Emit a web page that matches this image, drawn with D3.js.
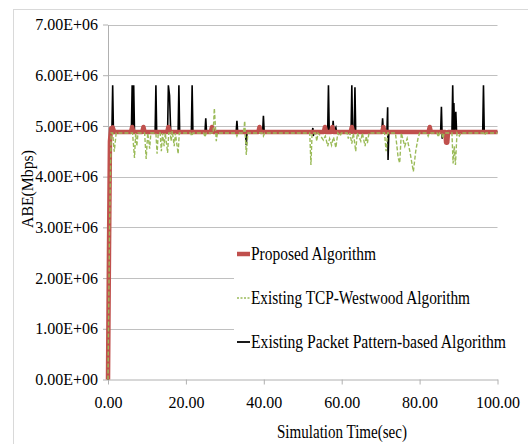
<!DOCTYPE html>
<html>
<head>
<meta charset="utf-8">
<script src="https://cdn.jsdelivr.net/npm/d3@7"></script>
<style>
  body { margin: 0; background: #fff; }
</style>
</head>
<body>
<svg id="canvas" width="528" height="444"></svg>
<script>
// values in E+06 (Mbps), time in sec
let yTicks = [0, 1, 2, 3, 4, 5, 6, 7]
let yTickLabels = ['0.00E+00', '1.00E+06', '2.00E+06', '3.00E+06', '4.00E+06', '5.00E+06', '6.00E+06', '7.00E+06']
let xTicks = [0, 20, 40, 60, 80, 100]
let xTickLabels = ['0.00', '20.00', '40.00', '60.00', '80.00', '100.00']

let seriesNames = ['Proposed Algorithm', 'Existing TCP-Westwood Algorithm', 'Existing Packet Pattern-based Algorithm']

let proposed = [
  [0, 0], [0.25, 2.5], [0.5, 4.7], [0.8, 4.95], [1.2, 4.97], [1.6, 4.88],
  [5.9, 4.88], [6.2, 4.98], [6.5, 4.88],
  [8.8, 4.88], [9.1, 4.98], [9.4, 4.88],
  [15.2, 4.88], [15.5, 4.98], [15.8, 4.88],
  [26.4, 4.88], [26.7, 4.98], [27.0, 4.88],
  [38.6, 4.88], [38.9, 4.98], [39.2, 4.88],
  [55.4, 4.88], [55.7, 4.98], [56.0, 4.88],
  [57.3, 4.88], [57.6, 4.98], [57.9, 4.88],
  [62.3, 4.88], [62.6, 4.98], [62.9, 4.88],
  [70.4, 4.88], [70.7, 4.98], [71.0, 4.88],
  [82.3, 4.88], [82.6, 4.98], [82.9, 4.88],
  [86.6, 4.88], [86.8, 4.67], [87.1, 4.67], [87.3, 4.88],
  [100, 4.88]
]

let westwood = [
  [0, 0], [0.4, 3.0], [0.8, 4.86], [1.2, 4.86], [1.6, 4.49], [2.1, 4.86],
  [6.3, 4.86], [6.8, 4.37], [7.1, 4.86], [7.4, 4.6], [7.7, 4.86],
  [9.4, 4.86], [9.8, 4.35], [10.2, 4.86], [10.7, 4.55], [11.0, 4.86],
  [12.3, 4.86], [12.6, 4.45], [12.9, 4.86],
  [13.4, 4.86], [13.7, 4.5], [14.0, 4.86], [14.4, 4.6], [14.7, 4.86], [15.3, 4.47], [15.6, 4.86],
  [16.0, 4.86], [16.2, 4.7], [16.5, 4.9], [17.0, 4.6], [17.3, 4.86], [18.0, 4.45], [18.3, 4.86],
  [21.2, 4.86], [21.5, 4.8], [21.8, 4.86],
  [24.6, 4.86], [24.9, 4.78], [25.2, 4.86],
  [27.0, 4.86], [27.3, 5.35], [27.8, 4.7], [28.1, 4.86],
  [32.8, 4.86], [33.1, 4.8], [33.4, 4.86],
  [34.8, 4.86], [35.1, 5.1], [35.5, 4.43], [35.9, 4.86],
  [39.6, 4.86], [39.9, 4.8], [40.2, 4.86],
  [51.8, 4.86], [52.1, 4.23], [52.4, 4.86],
  [53.3, 4.86], [53.6, 4.7], [53.9, 4.86], [54.6, 4.8], [55.3, 4.72], [55.8, 4.8], [56.4, 4.6], [56.9, 4.75],
  [57.4, 4.62], [57.9, 4.78], [58.5, 4.57], [59.0, 4.86], [59.6, 4.8], [59.9, 4.86],
  [61.4, 4.86], [61.7, 4.75], [62.1, 4.86], [62.6, 4.65], [63.0, 4.86], [63.6, 4.5], [64.0, 4.86],
  [64.9, 4.7], [65.3, 4.86], [66.0, 4.6], [66.3, 4.8], [66.6, 4.66], [67.0, 4.86],
  [71.0, 4.86], [71.4, 4.5], [71.8, 4.86],
  [73.8, 4.86], [74.5, 4.37], [74.9, 4.27], [75.3, 4.86], [76.2, 4.6], [76.8, 4.75], [77.5, 4.5],
  [78.4, 4.1], [79.0, 4.5], [79.6, 4.76], [80.0, 4.86],
  [81.9, 4.86], [82.2, 4.8], [82.5, 4.86], [84.5, 4.86], [84.8, 4.78], [85.1, 4.86], [85.7, 4.86], [86.0, 4.75], [86.3, 4.86],
  [88.3, 4.86], [88.6, 4.26], [88.9, 4.6], [89.2, 4.23], [89.6, 4.86], [90.2, 4.8], [90.6, 4.86],
  [96.4, 4.86], [96.7, 4.82], [97.0, 4.86],
  [100, 4.86]
]

let packet = [
  [0, 0], [0.3, 3.0], [0.7, 4.88], [1.0, 4.88], [1.2, 5.8], [1.4, 4.88],
  [6.0, 4.88], [6.2, 5.8], [6.4, 4.88], [6.6, 5.8], [6.8, 4.88],
  [12.1, 4.88], [12.3, 5.8], [12.5, 4.88],
  [15.3, 4.88], [15.5, 5.8], [15.8, 5.6], [16.1, 4.88],
  [18.0, 4.88], [18.2, 5.8], [18.4, 4.88],
  [21.4, 4.88], [21.6, 5.8], [21.8, 4.88],
  [24.9, 4.88], [25.1, 5.15], [25.3, 4.88],
  [32.9, 4.88], [33.1, 5.1], [33.3, 4.88],
  [35.3, 4.88], [35.5, 4.62], [35.7, 4.88],
  [39.7, 4.88], [39.9, 5.2], [40.1, 4.88],
  [52.4, 4.88], [52.6, 4.96], [52.7, 4.8], [52.9, 4.88],
  [56.4, 4.88], [56.6, 5.8], [56.8, 4.88],
  [57.6, 4.88], [57.8, 5.1], [58.0, 4.88], [58.5, 4.97], [58.7, 4.88],
  [62.4, 4.88], [62.6, 5.8], [62.8, 4.88], [63.2, 4.88], [63.4, 5.76], [63.6, 4.88],
  [70.3, 4.88], [70.5, 5.15], [70.7, 4.88],
  [71.6, 4.88], [71.8, 5.37], [71.9, 4.33], [72.1, 4.88],
  [85.4, 4.88], [85.6, 5.38], [85.8, 4.75], [86.0, 4.88],
  [88.3, 4.88], [88.5, 5.8], [88.7, 4.88], [88.8, 5.45], [89.0, 4.88], [89.3, 5.28], [89.5, 4.88],
  [96.2, 4.88], [96.4, 5.8], [96.6, 4.88],
  [100, 4.88]
]

let serif = 'Liberation Serif'
let canvas = d3.select('#canvas')

let xScale = d3.scaleLinear().domain([0, 100]).range([108, 497.5])
let yScale = d3.scaleLinear().domain([0, 7]).range([379.5, 24.5])

canvas.append('rect')
  .attr('x', 13.5).attr('y', 9.5)
  .attr('width', 600).attr('height', 500)
  .attr('fill', '#fff')
  .attr('stroke', '#d9d9d9')

canvas.append('g')
  .selectAll('line')
  .data(yTicks.slice(1))
  .enter()
  .append('line')
  .attr('x1', xScale(0)).attr('x2', xScale(100))
  .attr('y1', (d) => Math.round(yScale(d)) + 0.5)
  .attr('y2', (d) => Math.round(yScale(d)) + 0.5)
  .attr('stroke', '#c0c0c0')

let xAxis = d3.axisBottom(xScale)
  .tickValues(xTicks)
  .tickFormat((d, i) => xTickLabels[i])
  .tickSize(5)
  .tickPadding(12)
  .tickSizeOuter(0)

let yAxis = d3.axisLeft(yScale)
  .tickValues(yTicks)
  .tickFormat((d, i) => yTickLabels[i])
  .tickSize(5)
  .tickPadding(5)
  .tickSizeOuter(0)

let xG = canvas.append('g')
  .attr('transform', 'translate(0,' + yScale(0) + ')')
  .call(xAxis)

let yG = canvas.append('g')
  .attr('transform', 'translate(' + xScale(0) + ', 0)')
  .call(yAxis)

xG.attr('font-family', serif).attr('font-size', 16)
yG.attr('font-family', serif).attr('font-size', 16)
canvas.selectAll('.domain, .tick line').attr('stroke', '#b0b0b0')
canvas.selectAll('.tick text').attr('fill', '#000')

let line = d3.line()
  .x((d) => xScale(d[0]))
  .y((d) => yScale(d[1]))

canvas.append('path')
  .datum(packet)
  .attr('d', line)
  .attr('fill', 'none')
  .attr('stroke', '#000')
  .attr('stroke-width', 1.6)

canvas.append('path')
  .datum(proposed)
  .attr('d', line)
  .attr('fill', 'none')
  .attr('stroke', '#c0504d')
  .attr('stroke-width', 4.5)
  .attr('stroke-linejoin', 'round')

canvas.append('path')
  .datum(westwood)
  .attr('d', line)
  .attr('fill', 'none')
  .attr('stroke', '#9bbb59')
  .attr('stroke-width', 1.4)
  .attr('stroke-dasharray', '4,2')

// legend
let legend = canvas.append('g')
  .attr('font-family', serif)
legend.append('rect')
  .attr('x', 234).attr('y', 236)
  .attr('width', 276).attr('height', 122)
  .attr('fill', '#fff')

let legendY = [254, 298, 342]
let legendWidths = [125, 219, 255]
let legendStyles = [
  { color: '#c0504d', width: 4.5, dash: null },
  { color: '#9bbb59', width: 1.4, dash: '2,1.5' },
  { color: '#000', width: 1.8, dash: null }
]

seriesNames.forEach((name, i) => {
  legend.append('line')
    .attr('x1', 237).attr('x2', 250)
    .attr('y1', legendY[i]).attr('y2', legendY[i])
    .attr('stroke', legendStyles[i].color)
    .attr('stroke-width', legendStyles[i].width)
    .attr('stroke-dasharray', legendStyles[i].dash)
  legend.append('text')
    .attr('x', 251)
    .attr('y', legendY[i])
    .attr('dy', '0.35em')
    .attr('font-size', 18)
    .attr('textLength', legendWidths[i])
    .attr('lengthAdjust', 'spacingAndGlyphs')
    .text(name)
})

canvas.append('text')
  .attr('x', 342)
  .attr('y', 438)
  .attr('text-anchor', 'middle')
  .attr('font-family', serif)
  .attr('font-size', 18)
  .attr('textLength', 130)
  .attr('lengthAdjust', 'spacingAndGlyphs')
  .text('Simulation Time(sec)')

canvas.append('text')
  .attr('transform', 'translate(33, 189) rotate(-90)')
  .attr('text-anchor', 'middle')
  .attr('font-family', serif)
  .attr('font-size', 17)
  .attr('textLength', 78)
  .attr('lengthAdjust', 'spacingAndGlyphs')
  .text('ABE(Mbps)')
</script>
</body>
</html>
